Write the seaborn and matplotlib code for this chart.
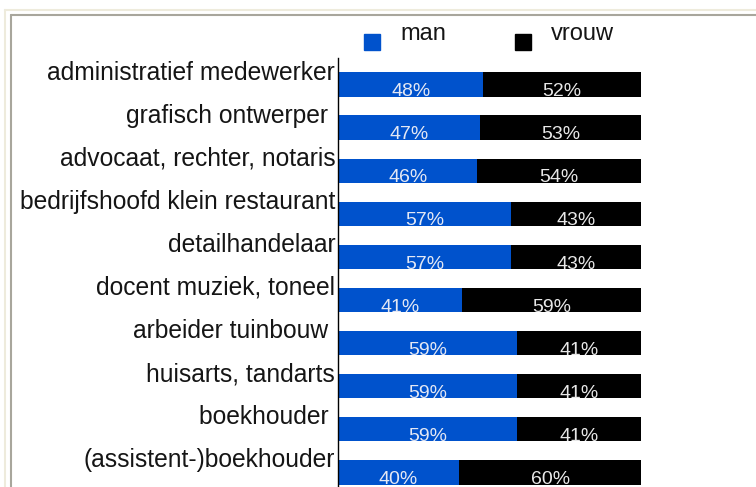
import matplotlib
matplotlib.use('Agg')
import matplotlib.pyplot as plt
import matplotlib.transforms as mtransforms
from matplotlib.lines import Line2D
import seaborn as sns
import pandas as pd

# data
jobs = ['administratief medewerker', 'grafisch ontwerper ', 'advocaat, rechter, notaris',
        'bedrijfshoofd klein restaurant', 'detailhandelaar', 'docent muziek, toneel',
        'arbeider tuinbouw ', 'huisarts, tandarts', 'boekhouder ', '(assistent-)boekhouder']
man = [48, 47, 46, 57, 57, 41, 59, 59, 59, 40]
vrouw = [52, 53, 54, 43, 43, 59, 41, 41, 41, 60]
series = ['man', 'vrouw']

blue = '#0052CC'
df = pd.DataFrame({'job': jobs, 'man': man, 'vrouw': vrouw})
df['total'] = df['man'] + df['vrouw']

sns.set_style('white')
plt.rcParams['font.family'] = ['Liberation Sans', 'DejaVu Sans']

fig = plt.figure(figsize=(7.56, 4.87), dpi=100)
W, H = 756, 487
ax = fig.add_axes([338 / W, 0, 303 / W, 1 - 58 / H])

sns.barplot(data=df, x='total', y='job', orient='h', color='black',
            saturation=1, width=0.565, linewidth=0, ax=ax)
sns.barplot(data=df, x='man', y='job', orient='h', color=blue,
            saturation=1, width=0.565, linewidth=0, ax=ax)

ax.set_xlim(0, 100)
ax.set_ylim(9.34, -0.615)
ax.set_xlabel('')
ax.set_ylabel('')
ax.set_xticks([])
for s in ['top', 'right', 'bottom']:
    ax.spines[s].set_visible(False)
ax.spines['left'].set_color('black')
ax.spines['left'].set_linewidth(1.0)
ax.spines['left'].set_zorder(5)
ax.tick_params(axis='y', length=0, pad=2, labelsize=17.7, labelcolor='#151515')

# category labels sit above the bar centres
shift = mtransforms.ScaledTranslation(0, 0.145, fig.dpi_scale_trans)
for lab in ax.get_yticklabels():
    lab.set_transform(lab.get_transform() + shift)

# percentage labels inside the segments, clipped by the bars
black_bars = ax.containers[0]
blue_bars = ax.containers[1]
for i, (m, v) in enumerate(zip(man, vrouw)):
    t1 = ax.text(m / 2, i + 0.27, f'{m}%', ha='center', va='baseline',
                 fontsize=14, color='#E4E8F4')
    t1.set_clip_path(blue_bars[i])
    t2 = ax.text(m + v / 2, i + 0.27, f'{v}%', ha='center', va='baseline',
                 fontsize=14, color='#E8E8E8')
    t2.set_clip_path(black_bars[i])

# legend
handles = [Line2D([], [], ls='', marker='s', markersize=12.2, color=c) for c in [blue, 'black']]
leg = fig.legend(handles, series, loc='center left', ncol=2, frameon=False,
                 bbox_to_anchor=(359.7 / W, 1 - 44.5 / H), fontsize=17,
                 handlelength=1.0, handletextpad=0.71, columnspacing=2.75,
                 borderpad=0, borderaxespad=0)
for t in leg.get_texts():
    t.set_y(11)
    t.set_color('#151515')

# window frame
fig.add_artist(Line2D([5 / W, 1], [1 - 10 / H, 1 - 10 / H], transform=fig.transFigure,
                      color='#EEEBDC', lw=1.5))
fig.add_artist(Line2D([5 / W, 5 / W], [0, 1 - 10 / H], transform=fig.transFigure,
                      color='#EEEBDC', lw=1.5))
fig.add_artist(Line2D([11 / W, 1], [1 - 15 / H, 1 - 15 / H], transform=fig.transFigure,
                      color='#A8A69C', lw=1.5))
fig.add_artist(Line2D([11 / W, 11 / W], [0, 1 - 15 / H], transform=fig.transFigure,
                      color='#A8A69C', lw=1.5))

fig.savefig('out.png', dpi=100)
